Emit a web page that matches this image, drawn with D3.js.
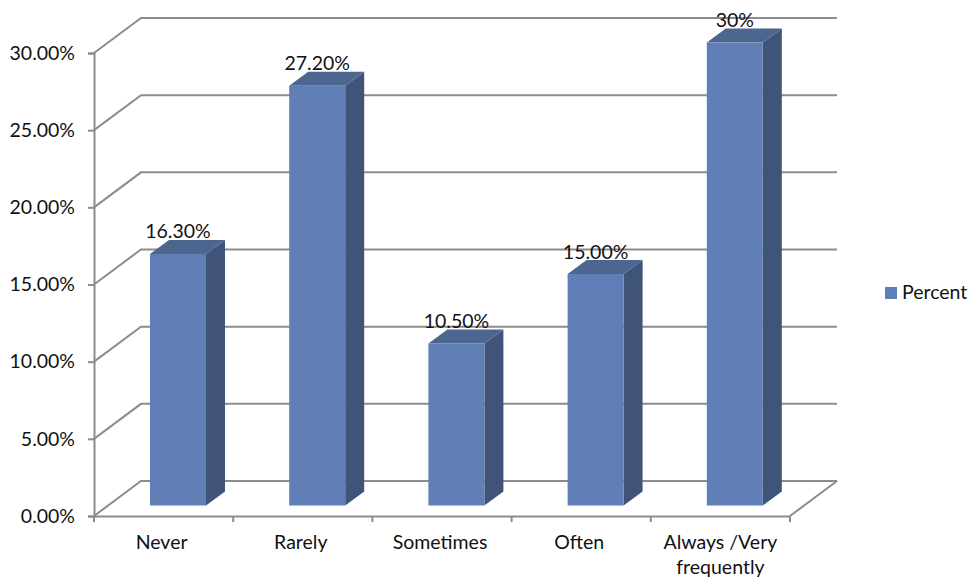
<!DOCTYPE html>
<html>
<head>
<meta charset="utf-8">
<script src="https://cdn.jsdelivr.net/npm/d3@7/dist/d3.min.js"></script>
<style>
  body { margin: 0; background: #fff; }
  text { font-family: Lato, "Open Sans", sans-serif; font-size: 19.5px; fill: #111; }
</style>
</head>
<body>
<div class="BarChart"></div>
<script>
const categories = ["Never", "Rarely", "Sometimes", "Often", "Always /Very frequently"];
const percentValues = [16.3, 27.2, 10.5, 15.0, 30.0];
const valueLabels = ["16.30%", "27.20%", "10.50%", "15.00%", "30%"];
const yTicks = [0, 5, 10, 15, 20, 25, 30];
const seriesName = "Percent";

const width = 969, height = 578;
const axisColor = "#8c8c8c";
const frontColor = "#607fb7", sideColor = "#405379", topColor = "#4c6690";

// 3D offsets: the back wall and the bar depth
const wall = { dx: 47, dy: -35 };
const depth = { dx: 19, dy: -14 };
const floorGap = 10.5; // bars sit a bit behind the front axis

const svg = d3.select(".BarChart")
  .append("svg")
  .attr("width", width)
  .attr("height", height)
  .style("display", "block");

const x = d3.scaleBand()
  .domain(categories)
  .range([94, 790]);

const y = d3.scaleLinear()
  .domain([0, 30])
  .range([516, 53]);

const barWidth = 56;
const barLeft = d => x(d) + 56;

// Walls: diagonal from the axis plus the line along the back
const grid = svg.append("g");
grid.selectAll(".grid")
  .data(yTicks)
  .enter()
  .append("path")
  .attr("class", "grid")
  .attr("fill", "none")
  .attr("stroke", axisColor)
  .attr("stroke-width", 2)
  .attr("d", d => d3.line()([
    [x.range()[0], y(d)],
    [x.range()[0] + wall.dx, y(d) + wall.dy],
    [x.range()[1] + wall.dx, y(d) + wall.dy]
  ]));

// Right edge of the floor
grid.append("path")
  .attr("fill", "none")
  .attr("stroke", axisColor)
  .attr("stroke-width", 2)
  .attr("d", d3.line()([
    [x.range()[1], y(0)],
    [x.range()[1] + wall.dx, y(0) + wall.dy]
  ]));

// Y axis
const yAxis = svg.append("g")
  .attr("transform", `translate(${x.range()[0]},0)`)
  .call(d3.axisLeft(y).tickValues(yTicks).tickFormat(d => d3.format(".2f")(d) + "%").tickSizeOuter(0).tickSize(6).tickPadding(13));

// X axis, ticks between categories
const xAxis = svg.append("g")
  .attr("transform", `translate(0,${y(0)})`)
  .call(d3.axisBottom(x).tickSize(0).tickPadding(19));

xAxis.selectAll(".boundary")
  .data(d3.range(categories.length + 1))
  .enter()
  .append("line")
  .attr("class", "boundary")
  .attr("x1", i => x.range()[0] + i * x.step())
  .attr("x2", i => x.range()[0] + i * x.step())
  .attr("y1", 0)
  .attr("y2", 6)
  .attr("stroke", axisColor)
  .attr("stroke-width", 2);

svg.selectAll(".domain, .tick line")
  .attr("stroke", axisColor)
  .attr("stroke-width", 2);
svg.selectAll(".tick text").attr("fill", "#111").style("font-size", "19.5px").style("font-family", "Lato");

// Long category names wrap onto two lines
xAxis.selectAll(".tick text").each(function(d) {
  const el = d3.select(this);
  if (d.length < 15) {
    el.attr("x", -2);
    return;
  }
  const words = d.split(" ");
  const tickY = el.attr("y");
  el.text(null);
  el.append("tspan").attr("x", 0).attr("y", tickY).attr("dy", "0.71em").text(words.slice(0, 2).join(" "));
  el.append("tspan").attr("x", 0).attr("y", tickY).attr("dy", "1.99em").text(words.slice(2).join(" "));
});

// Bars
const bars = svg.selectAll(".bar")
  .data(categories.map((c, i) => ({ category: c, value: percentValues[i], label: valueLabels[i] })))
  .enter()
  .append("g")
  .attr("class", "bar");

const baseY = y(0) - floorGap;
const topY = d => y(d.value) - floorGap;

bars.append("path")
  .attr("fill", sideColor)
  .attr("d", d => {
    const r = barLeft(d.category) + barWidth;
    return d3.line()([[r, topY(d)], [r + depth.dx, topY(d) + depth.dy], [r + depth.dx, baseY + depth.dy], [r, baseY]]) + "Z";
  });

bars.append("path")
  .attr("fill", topColor)
  .attr("d", d => {
    const l = barLeft(d.category), r = l + barWidth;
    return d3.line()([[l, topY(d)], [l + depth.dx, topY(d) + depth.dy], [r + depth.dx, topY(d) + depth.dy], [r, topY(d)]]) + "Z";
  });

bars.append("rect")
  .attr("fill", frontColor)
  .attr("x", d => barLeft(d.category))
  .attr("y", topY)
  .attr("width", barWidth)
  .attr("height", d => baseY - topY(d));

bars.append("text")
  .attr("text-anchor", "middle")
  .attr("x", d => barLeft(d.category) + barWidth / 2)
  .attr("y", d => topY(d) - 15.5)
  .text(d => d.label);

// Legend
svg.append("rect")
  .attr("x", 885)
  .attr("y", 287)
  .attr("width", 12)
  .attr("height", 12)
  .attr("fill", frontColor);

svg.append("text")
  .attr("x", 902)
  .attr("y", 299)
  .text(seriesName);
</script>
</body>
</html>
